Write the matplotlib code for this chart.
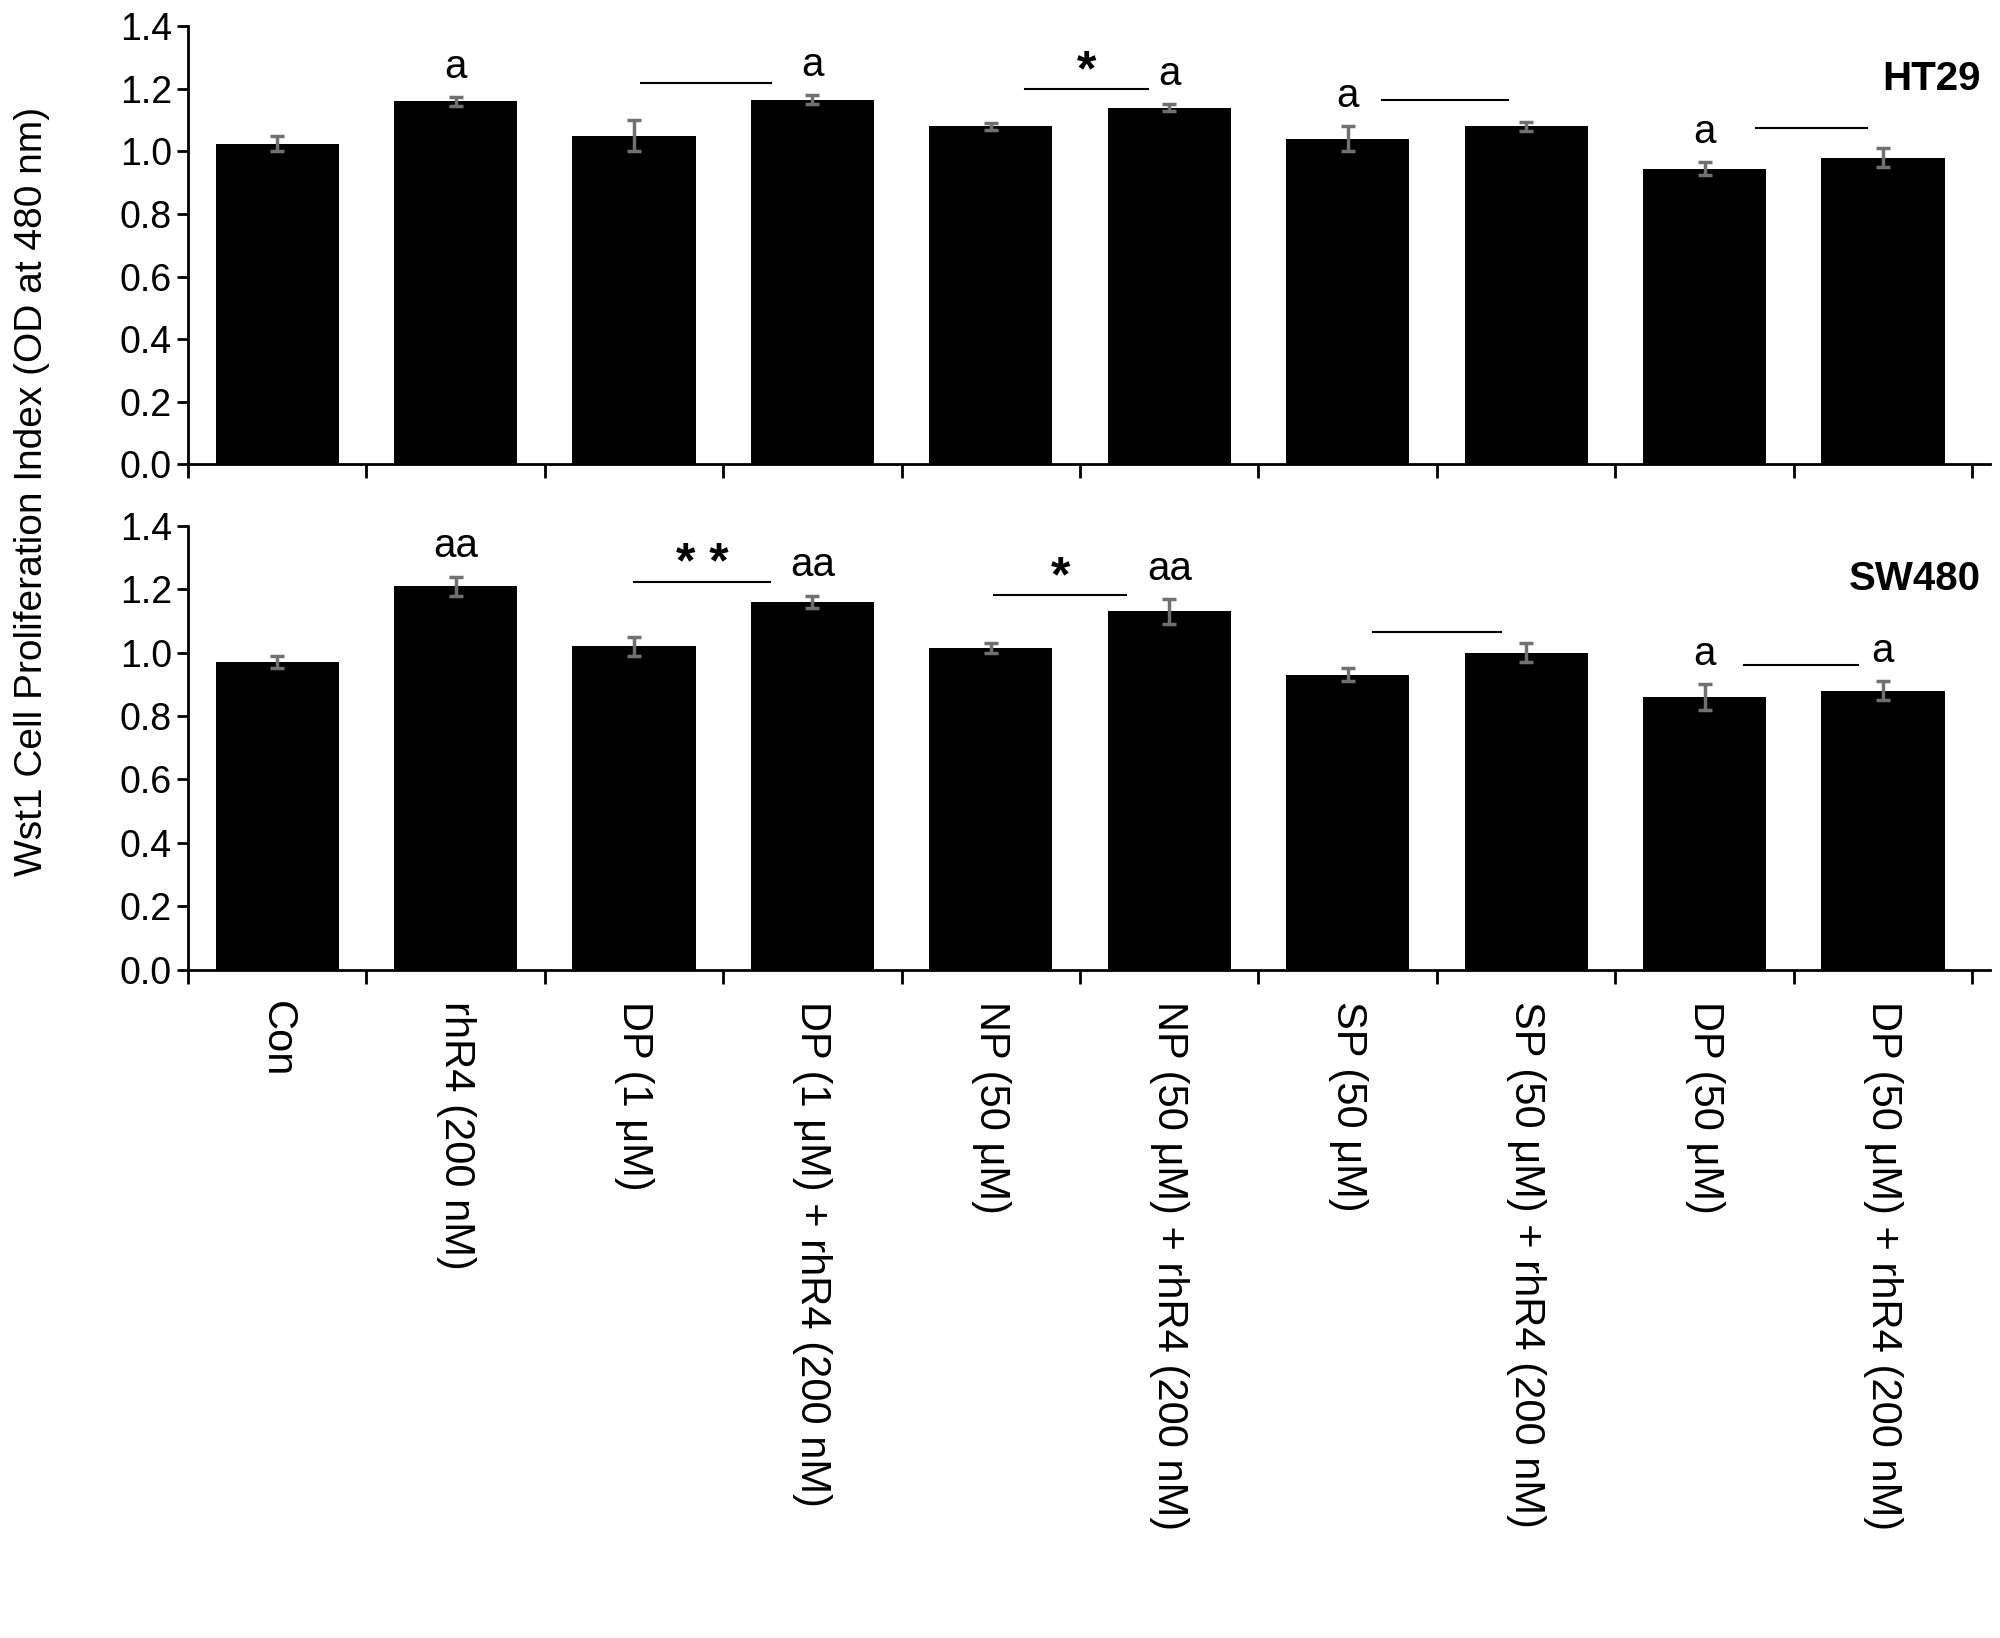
import matplotlib.pyplot as plt

plt.rcParams['font.family'] = ['Liberation Sans', 'DejaVu Sans']

labels = ['Con', 'rhR4 (200 nM)', 'DP (1 μM)', 'DP (1 μM) + rhR4 (200 nM)',
          'NP (50 μM)', 'NP (50 μM) + rhR4 (200 nM)', 'SP (50 μM)',
          'SP (50 μM) + rhR4 (200 nM)', 'DP (50 μM)', 'DP (50 μM) + rhR4 (200 nM)']
ht29 = [1.025, 1.16, 1.05, 1.165, 1.08, 1.14, 1.04, 1.08, 0.945, 0.98]
ht29_err = [0.025, 0.015, 0.05, 0.015, 0.012, 0.01, 0.04, 0.015, 0.02, 0.03]
sw480 = [0.97, 1.21, 1.02, 1.16, 1.015, 1.13, 0.93, 1.0, 0.86, 0.88]
sw480_err = [0.02, 0.03, 0.03, 0.02, 0.015, 0.04, 0.02, 0.03, 0.04, 0.03]

# letters above bars: (index, text)
ht29_letters = [(1, 'a'), (3, 'a'), (5, 'a'), (6, 'a'), (8, 'a')]
sw480_letters = [(1, 'aa'), (3, 'aa'), (5, 'aa'), (8, 'a'), (9, 'a')]
# comparison lines: (x0, x1, y, star)
ht29_lines = [(2.04, 2.77, 1.22, ''), (4.19, 4.88, 1.20, '*'),
              (6.19, 6.90, 1.165, ''), (8.29, 8.91, 1.075, '')]
sw480_lines = [(2.0, 2.76, 1.223, '* *'), (4.02, 4.76, 1.183, '*'),
               (6.14, 6.86, 1.066, ''), (8.22, 8.86, 0.96, '')]

fig = plt.figure(figsize=(20, 16.38), dpi=100)
ax1 = fig.add_axes([0.094, 0.7165, 0.901, 0.2675])
ax2 = fig.add_axes([0.094, 0.408, 0.901, 0.271])

x = list(range(len(labels)))
for ax, vals, errs, lets, lines, name in [
        (ax1, ht29, ht29_err, ht29_letters, ht29_lines, 'HT29'),
        (ax2, sw480, sw480_err, sw480_letters, sw480_lines, 'SW480')]:
    ax.bar(x, vals, width=0.69, color='black')
    ax.errorbar(x, vals, yerr=errs, fmt='none', ecolor='#707070',
                elinewidth=2.5, capsize=5, capthick=2.5)
    for i, t in lets:
        ax.text(i, vals[i] + errs[i] + 0.035, t, ha='center', va='bottom', fontsize=29)
    for x0, x1, y, s in lines:
        ax.plot([x0, x1], [y, y], color='black', lw=1.5)
        if s:
            ax.text((x0 + x1) / 2, y - 0.02, s, ha='center', va='bottom',
                    fontsize=36, fontweight='bold')
    ax.text(0.995, 0.88, name, transform=ax.transAxes, ha='right', va='center',
            fontsize=29, fontweight='bold')
    ax.set_xlim(-0.5, 9.6)
    ax.set_ylim(0, 1.4)
    ax.set_yticks([0, 0.2, 0.4, 0.6, 0.8, 1.0, 1.2, 1.4])
    ax.set_yticklabels(['%.1f' % v for v in ax.get_yticks()])
    ax.set_xticks([i - 0.5 for i in range(11)])
    ax.set_xticklabels([])
    ax.spines['top'].set_visible(False)
    ax.spines['right'].set_visible(False)
    ax.spines['left'].set_linewidth(2)
    ax.spines['bottom'].set_linewidth(2)
    ax.tick_params(axis='y', labelsize=27, width=2, length=8)
    ax.tick_params(axis='x', width=2, length=10)

for i, lab in enumerate(labels):
    ax2.text(i, -0.1, lab, rotation=270, ha='center', va='top', fontsize=30,
             transform=ax2.transData)

fig.text(0.016, 0.70, 'Wst1 Cell Proliferation Index (OD at 480 nm)', rotation=90,
         ha='center', va='center', fontsize=28)

fig.savefig('out.png', dpi=100)
